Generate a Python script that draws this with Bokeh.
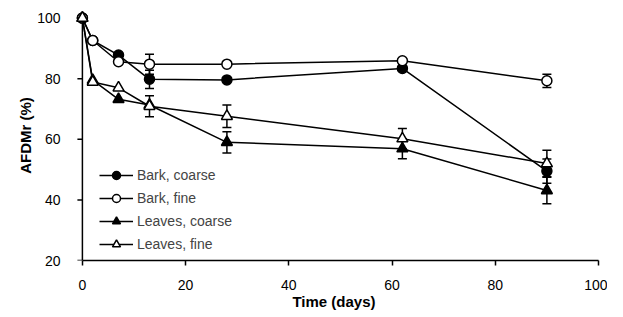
import math
from bokeh.plotting import figure
from bokeh.models import Legend, LegendItem, Whisker, TeeHead, ColumnDataSource, FixedTicker
from bokeh.embed import file_html
from bokeh.resources import INLINE

days = [0, 2, 7, 13, 28, 62, 90]
bark_coarse = [100, 92.6, 87.8, 79.8, 79.6, 83.4, 49.5]
bark_coarse_err = [0, 0, 0, 3.0, 0, 0, 4.0]
bark_fine = [100, 92.6, 85.6, 84.8, 84.8, 85.9, 79.3]
bark_fine_err = [0, 0, 0, 3.3, 0, 0, 2.2]
leaves_coarse = [100, 79.5, 73.2, 71.3, 59.0, 56.9, 43.1]
leaves_coarse_err = [0, 0, 0, 0, 3.5, 3.3, 4.4]
leaves_fine = [100, 78.9, 77.0, 70.9, 67.6, 60.2, 52.0]
leaves_fine_err = [0, 0, 0, 3.5, 3.7, 3.4, 4.4]
x_ticks = [0, 20, 40, 60, 80, 100]
y_ticks = [20, 40, 60, 80, 100]

series = [
    ("Bark, coarse", bark_coarse, bark_coarse_err, "circle", "black"),
    ("Bark, fine", bark_fine, bark_fine_err, "circle", "white"),
    ("Leaves, coarse", leaves_coarse, leaves_coarse_err, "triangle", "black"),
    ("Leaves, fine", leaves_fine, leaves_fine_err, "triangle", "white"),
]

x0, x1 = x_ticks[0], x_ticks[-1]
y0, y1 = y_ticks[0], y_ticks[-1]

p = figure(width=607, height=315, output_backend="svg", toolbar_location=None,
           x_range=(x0 - 2.5, x1), y_range=(y0, y1 + 2.5),
           min_border_left=69, min_border_right=9, min_border_top=10, min_border_bottom=55)
p.outline_line_color = None
p.xgrid.visible = False
p.ygrid.visible = False
p.background_fill_color = "white"
p.border_fill_color = "white"

font = "Liberation Sans"
for ax in (p.xaxis, p.yaxis):
    ax.axis_line_color = "black"
    ax.axis_line_width = 1.5
    ax.major_tick_line_color = "black"
    ax.major_tick_line_width = 1.5
    ax.major_tick_out = 5
    ax.major_tick_in = 0
    ax.minor_tick_line_color = None
    ax.major_label_text_font = font
    ax.major_label_text_font_size = "14px"
    ax.major_label_text_color = "black"
    ax.axis_label_text_font = font
    ax.axis_label_text_font_size = "15px"
    ax.axis_label_text_font_style = "bold"
    ax.axis_label_text_color = "black"
p.xaxis.ticker = FixedTicker(ticks=x_ticks)
p.yaxis.ticker = FixedTicker(ticks=y_ticks)
p.xaxis.bounds = (x0, x1)
p.xaxis.axis_label = "Time (days)"
p.yaxis.axis_label = "AFDMr (%)"
p.xaxis.major_label_standoff = 14
p.xaxis.axis_label_standoff = 0
# y axis: labels from the real axis, line and ticks drawn at x = 0
p.yaxis.axis_line_color = None
p.yaxis.major_tick_line_color = None
p.yaxis.major_tick_out = 0
p.yaxis.major_label_standoff = 9
p.yaxis.axis_label_standoff = 0

p.segment(x0=[x0], y0=[y0], x1=[x0], y1=[y1], line_color="black", line_width=1.5)
p.ray(x=[x0] * len(y_ticks), y=y_ticks, length=5, length_units="screen", angle=math.pi,
      line_color="black", line_width=1.5)

items = []
for name, vals, errs, marker, fill in series:
    ex = [d for d, e in zip(days, errs) if e > 0]
    lo = [v - e for v, e in zip(vals, errs) if e > 0]
    hi = [v + e for v, e in zip(vals, errs) if e > 0]
    src = ColumnDataSource(dict(x=ex, lo=lo, hi=hi))
    w = Whisker(source=src, base="x", lower="lo", upper="hi", line_color="black", line_width=1.5,
                upper_head=TeeHead(size=9, line_color="black", line_width=1.5),
                lower_head=TeeHead(size=9, line_color="black", line_width=1.5))
    p.add_layout(w)
for name, vals, errs, marker, fill in series:
    ln = p.line(days, vals, line_color="black", line_width=1.5)
    sc = p.scatter(days, vals, marker=marker, size=10 if marker == "circle" else 11,
                   fill_color=fill, line_color="black", line_width=1.5)
    items.append(LegendItem(label=name, renderers=[ln, sc]))

legend = Legend(items=items, location=(30, 6), padding=0, margin=0, spacing=3,
                glyph_width=34, glyph_height=20, label_standoff=4,
                label_text_font=font, label_text_font_size="14px",
                border_line_color=None, background_fill_alpha=0)
p.add_layout(legend)

open("out.html", "w").write(file_html(p, INLINE))
